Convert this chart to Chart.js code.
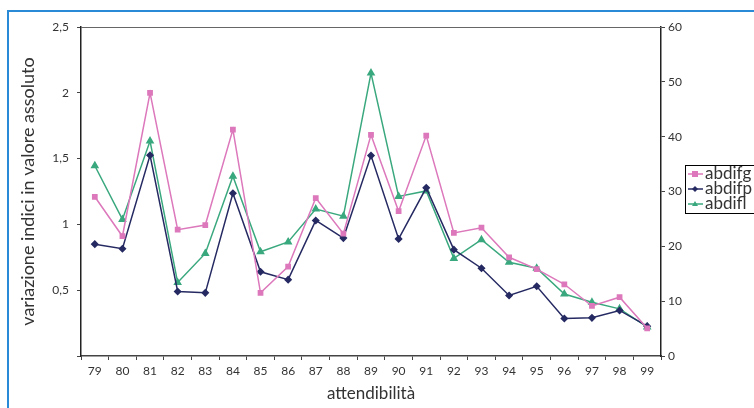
<!DOCTYPE html>
<html>
<head>
<meta charset="utf-8">
<script src="https://cdn.jsdelivr.net/npm/chart.js@4"></script>
<style>
  html, body { margin: 0; padding: 0; background: #fff; }
  #wrap { position: relative; width: 754px; height: 408px; overflow: hidden; }
  #cornice { position: absolute; left: 7px; top: 10px; right: 0; bottom: 0;
             border-top: 2px solid #2a8ad6; border-left: 2px solid #2a8ad6; }
  canvas { position: absolute; left: 0; top: 0; }
</style>
</head>
<body>
<div id="wrap">
  <div id="cornice"></div>
  <canvas id="grafico" width="754" height="408"></canvas>
</div>
<script>
// categorie (attendibilità)
const anni = ['79','80','81','82','83','84','85','86','87','88','89','90','91','92','93','94','95','96','97','98','99'];

// asse sinistro
const abdifg = [1.21, 0.91, 2.0, 0.96, 0.995, 1.72, 0.48, 0.68, 1.2, 0.93, 1.68, 1.1, 1.675, 0.935, 0.975, 0.75, 0.66, 0.545, 0.38, 0.447, 0.21];
const abdifp = [0.85, 0.815, 1.525, 0.49, 0.48, 1.237, 0.64, 0.58, 1.03, 0.896, 1.523, 0.89, 1.278, 0.808, 0.667, 0.46, 0.53, 0.285, 0.29, 0.346, 0.227];
// asse destro
const abdifl = [34.7, 24.9, 39.2, 13.4, 18.7, 32.8, 19.0, 20.8, 26.8, 25.5, 51.6, 29.1, 30.1, 17.8, 21.2, 17.1, 16.0, 11.3, 9.8, 8.6, 5.3];

const font = "Lato, 'Noto Sans', sans-serif";
const grigio = '#333';

// legenda e bordo superiore disegnati a mano
const extraPlugin = {
  id: 'extra',
  afterDraw(chart) {
    const ctx = chart.ctx;
    const a = chart.chartArea;
    ctx.save();
    ctx.strokeStyle = '#666';
    ctx.lineWidth = 1;
    ctx.beginPath();
    ctx.moveTo(a.left, a.top + 0.5);
    ctx.lineTo(a.right, a.top + 0.5);
    ctx.stroke();

    const x0 = a.right + 24, y0 = 165, w = 80, h = 48;
    ctx.strokeStyle = '#000';
    ctx.lineWidth = 1;
    ctx.strokeRect(x0 + 0.5, y0 + 0.5, w, h);
    ctx.font = '17px ' + font;
    ctx.textBaseline = 'middle';
    chart.data.datasets.forEach((ds, i) => {
      const y = y0 + 9 + i * 15;
      const cx = x0 + 10;
      ctx.strokeStyle = ds.borderColor;
      ctx.lineWidth = 1.5;
      ctx.beginPath();
      ctx.moveTo(x0 + 3, y);
      ctx.lineTo(x0 + 18, y);
      ctx.stroke();
      ctx.fillStyle = ds.backgroundColor;
      const r = 3;
      if (ds.pointStyle === 'rect') ctx.fillRect(cx - r, y - r, r * 2, r * 2);
      else if (ds.pointStyle === 'triangle') {
        ctx.beginPath(); ctx.moveTo(cx, y - r); ctx.lineTo(cx + r, y + r * 0.7); ctx.lineTo(cx - r, y + r * 0.7); ctx.fill();
      } else {
        ctx.beginPath(); ctx.moveTo(cx, y - r); ctx.lineTo(cx + r, y); ctx.lineTo(cx, y + r); ctx.lineTo(cx - r, y); ctx.fill();
      }
      ctx.fillStyle = grigio;
      ctx.fillText(ds.label, x0 + 20, y);
    });
    ctx.restore();
  }
};

new Chart(document.getElementById('grafico'), {
  type: 'line',
  data: {
    labels: anni,
    datasets: [
      { label: 'abdifg', data: abdifg, yAxisID: 'y', borderColor: '#dc78bb', backgroundColor: '#dc78bb',
        borderWidth: 1.5, pointStyle: 'rect', pointRadius: 3, tension: 0 },
      { label: 'abdifp', data: abdifp, yAxisID: 'y', borderColor: '#262a62', backgroundColor: '#262a62',
        borderWidth: 1.5, pointStyle: 'rectRot', pointRadius: 3, tension: 0 },
      { label: 'abdifl', data: abdifl, yAxisID: 'y1', borderColor: '#3aa87e', backgroundColor: '#3aa87e',
        borderWidth: 1.5, pointStyle: 'triangle', pointRadius: 3.5, tension: 0 }
    ]
  },
  options: {
    responsive: false,
    animation: false,
    layout: { padding: { top: 27, left: 0, right: 0, bottom: 0 } },
    plugins: { legend: { display: false }, tooltip: { enabled: false } },
    scales: {
      x: {
        offset: true,
        grid: { offset: true, drawOnChartArea: false, tickLength: 4, color: '#444' },
        border: { color: '#444', width: 1.5 },
        ticks: { color: grigio, font: { family: font, size: 12 }, maxRotation: 0, autoSkip: false, padding: 4 },
        title: { display: true, text: 'attendibilità', color: grigio, font: { family: font, size: 17 }, padding: { top: 10 } },
        afterFit(s) { s.height = 52; }
      },
      y: {
        position: 'left',
        min: 0, max: 2.5,
        ticks: { stepSize: 0.5, color: grigio, font: { family: font, size: 12 }, padding: 8,
                 callback: v => v === 0 ? '' : String(v).replace('.', ',') },
        grid: { drawOnChartArea: false, tickLength: 4, color: '#444' },
        border: { color: '#222', width: 1.5 },
        title: { display: true, text: 'variazione indici in valore assoluto', color: grigio,
                 font: { family: font, size: 18 }, padding: { top: 17, bottom: 0 } },
        afterFit(s) { s.width = 81; }
      },
      y1: {
        position: 'right',
        min: 0, max: 60,
        ticks: { stepSize: 10, color: grigio, font: { family: font, size: 12 }, padding: 3 },
        grid: { drawOnChartArea: false, tickLength: 4, color: '#444' },
        border: { color: '#222', width: 1.5 },
        afterFit(s) { s.width = 93; }
      }
    }
  },
  plugins: [extraPlugin]
});
</script>
</body>
</html>
